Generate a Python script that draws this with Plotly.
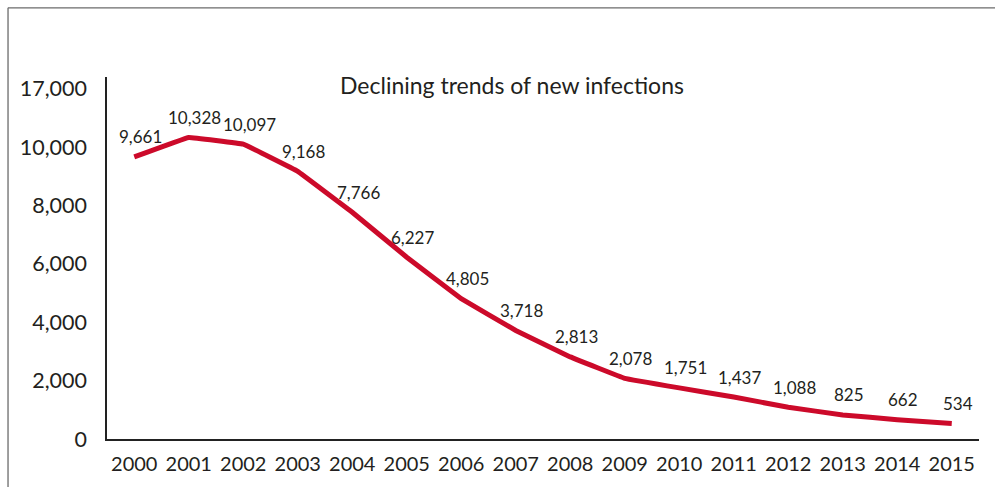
import plotly.graph_objects as go

# New infections per year
years = [str(y) for y in range(2000, 2016)]
new_infections = [9661, 10328, 10097, 9168, 7766, 6227, 4805, 3718,
                  2813, 2078, 1751, 1437, 1088, 825, 662, 534]

# Y-axis ticks (top label kept as printed in the source chart)
y_tickvals = [0, 2000, 4000, 6000, 8000, 10000, 12000]
y_ticktext = ["0", "2,000", "4,000", "6,000", "8,000", "10,000", "17,000"]

title_text = "Declining trends of new infections"

FONT = "Lato, 'Open Sans', sans-serif"
TEXT = "#231f20"
RED = "#cc0a2a"

fig = go.Figure()
fig.add_trace(go.Scatter(
    x=years, y=new_infections, mode="lines",
    line=dict(color=RED, width=5, shape="spline", smoothing=0.12),
    hoverinfo="x+y", showlegend=False,
))

# value labels above each point (category index used for x)
for i, v in enumerate(new_infections):
    fig.add_annotation(x=i, y=v, xref="x", yref="y", text=f"{v:,}",
                       showarrow=False, xshift=6, yshift=20,
                       font=dict(family=FONT, size=17, color=TEXT))

# chart title
fig.add_annotation(x=0.465, y=1.0, xref="paper", yref="paper",
                   text=title_text, showarrow=False,
                   yshift=8, font=dict(family=FONT, size=23, color=TEXT))

# outer frame (top and left edges)
fig.add_shape(type="line", xref="paper", yref="paper",
              x0=-0.1135, x1=1.02, y0=1.191, y1=1.191,
              line=dict(color="#6b6b6b", width=1.3))
fig.add_shape(type="line", xref="paper", yref="paper",
              x0=-0.1135, x1=-0.1135, y0=1.191, y1=-0.2,
              line=dict(color="#6b6b6b", width=1.3))

fig.update_layout(
    width=995, height=487,
    margin=dict(l=107, r=16, t=77, b=43),
    paper_bgcolor="white", plot_bgcolor="white",
    font=dict(family=FONT, color=TEXT),
    xaxis=dict(
        type="category", range=[-0.5, 15.5],
        showgrid=False, zeroline=False,
        showline=True, linecolor="#222", linewidth=1.5,
        ticks="", tickfont=dict(size=20, color=TEXT),
        ticklabelstandoff=6,
    ),
    yaxis=dict(
        range=[0, 12400],
        tickvals=y_tickvals, ticktext=y_ticktext,
        showgrid=False, zeroline=False,
        showline=True, linecolor="#222", linewidth=1.5,
        ticks="", tickfont=dict(size=21.5, color=TEXT),
        ticklabelstandoff=14,
    ),
)

fig.write_html("out.html")
